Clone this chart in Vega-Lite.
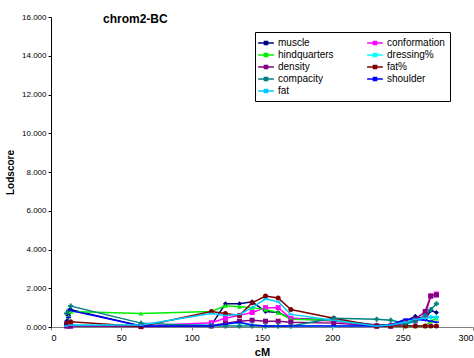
{
  "$schema": "https://vega.github.io/schema/vega-lite/v6.json",
  "autosize": "none",
  "width": 422,
  "height": 310,
  "padding": {"left": 51, "top": 17, "right": 1, "bottom": 31},
  "background": "white",
  "config": {
    "view": {"stroke": null},
    "font": "Liberation Sans",
    "axis": {"grid": false, "labelFont": "Liberation Sans", "titleFont": "Liberation Sans", "labelColor": "black", "titleColor": "black"}
  },
  "title": {"text": "chrom2-BC", "anchor": "start", "frame": "group", "dx": 52, "offset": -13, "fontSize": 12, "fontWeight": "bold", "font": "Liberation Sans", "color": "black"},
  "data": {"values": [
    {"cM": 11, "muscle": 0.3, "conformation": 0.15, "hindquarters": 0.2, "dressing%": 0.1, "density": 0.05, "fat%": 0.15, "compacity": 0.7, "shoulder": 0.1, "fat": 0.05},
    {"cM": 12.5, "muscle": 0.6, "conformation": 0.05, "hindquarters": 0.55, "dressing%": 0.05, "density": 0.05, "fat%": 0.2, "compacity": 0.85, "shoulder": 0.5, "fat": 0.05},
    {"cM": 14, "muscle": 0.9, "conformation": 0.05, "hindquarters": 0.8, "dressing%": 0.05, "density": 0.05, "fat%": 0.27, "compacity": 1.08, "shoulder": 0.85, "fat": 0.1},
    {"cM": 64, "muscle": 0.05, "conformation": 0.05, "hindquarters": 0.7, "dressing%": 0.05, "density": 0.02, "fat%": 0.03, "compacity": 0.2, "shoulder": 0.05, "fat": 0.1},
    {"cM": 114, "muscle": 0.1, "conformation": 0.22, "hindquarters": 0.8, "dressing%": 0.1, "density": 0.05, "fat%": 0.8, "compacity": 0.05, "shoulder": 0.05, "fat": 0.7},
    {"cM": 124, "muscle": 1.2, "conformation": 0.45, "hindquarters": 1.1, "dressing%": 0.15, "density": 0.2, "fat%": 0.7, "compacity": 0.05, "shoulder": 0.15, "fat": 0.6},
    {"cM": 134, "muscle": 1.2, "conformation": 0.6, "hindquarters": 1.05, "dressing%": 0.2, "density": 0.3, "fat%": 0.6, "compacity": 0.05, "shoulder": 0.25, "fat": 0.65},
    {"cM": 143, "muscle": 1.3, "conformation": 0.75, "hindquarters": 1.0, "dressing%": 0.1, "density": 0.35, "fat%": 1.25, "compacity": 0.05, "shoulder": 0.1, "fat": 1.0},
    {"cM": 152.5, "muscle": 0.8, "conformation": 1.0, "hindquarters": 0.9, "dressing%": 0.05, "density": 0.3, "fat%": 1.6, "compacity": 0.05, "shoulder": 0.05, "fat": 1.45},
    {"cM": 161.5, "muscle": 0.75, "conformation": 1.0, "hindquarters": 0.75, "dressing%": 0.05, "density": 0.3, "fat%": 1.5, "compacity": 0.05, "shoulder": 0.05, "fat": 1.3},
    {"cM": 170.5, "muscle": 0.45, "conformation": 0.45, "hindquarters": 0.4, "dressing%": 0.05, "density": 0.25, "fat%": 0.9, "compacity": 0.05, "shoulder": 0.05, "fat": 0.65},
    {"cM": 201, "muscle": 0.35, "conformation": 0.3, "hindquarters": 0.35, "dressing%": 0.05, "density": 0.2, "fat%": 0.45, "compacity": 0.45, "shoulder": 0.05, "fat": 0.35},
    {"cM": 231.5, "muscle": 0.1, "conformation": 0.05, "hindquarters": 0.05, "dressing%": 0.05, "density": 0.05, "fat%": 0.05, "compacity": 0.4, "shoulder": 0.05, "fat": 0.05},
    {"cM": 241.5, "muscle": 0.1, "conformation": 0.05, "hindquarters": 0.05, "dressing%": 0.05, "density": 0.05, "fat%": 0.05, "compacity": 0.35, "shoulder": 0.1, "fat": 0.1},
    {"cM": 252, "muscle": 0.3, "conformation": 0.2, "hindquarters": 0.05, "dressing%": 0.1, "density": 0.2, "fat%": 0.05, "compacity": 0.2, "shoulder": 0.4, "fat": 0.25},
    {"cM": 259, "muscle": 0.55, "conformation": 0.3, "hindquarters": 0.05, "dressing%": 0.3, "density": 0.4, "fat%": 0.05, "compacity": 0.3, "shoulder": 0.4, "fat": 0.4},
    {"cM": 266, "muscle": 0.4, "conformation": 0.6, "hindquarters": 0.05, "dressing%": 0.45, "density": 0.8, "fat%": 0.05, "compacity": 0.6, "shoulder": 0.35, "fat": 0.45},
    {"cM": 270, "muscle": 0.85, "conformation": 1.6, "hindquarters": 0.3, "dressing%": 0.5, "density": 1.6, "fat%": 0.05, "compacity": 0.9, "shoulder": 0.3, "fat": 0.5},
    {"cM": 274, "muscle": 0.75, "conformation": 1.7, "hindquarters": 0.45, "dressing%": 0.5, "density": 1.65, "fat%": 0.05, "compacity": 1.2, "shoulder": 0.25, "fat": 0.5}
  ]},
  "transform": [
    {"fold": ["muscle", "conformation", "hindquarters", "dressing%", "density", "fat%", "compacity", "shoulder", "fat"], "as": ["trait", "lod"]}
  ],
  "encoding": {
    "x": {"field": "cM", "type": "quantitative", "scale": {"domain": [0, 300], "nice": false},
      "axis": {"values": [0, 50, 100, 150, 200, 250, 300], "title": "cM", "titleFontWeight": "bold", "titleFontSize": 11, "titlePadding": 4, "labelFontSize": 9, "domainColor": "#808080", "tickColor": "#808080", "tickSize": 3, "labelPadding": 3}},
    "y": {"field": "lod", "type": "quantitative", "scale": {"domain": [0, 16], "nice": false},
      "axis": {"values": [0, 2, 4, 6, 8, 10, 12, 14, 16], "format": ".3f", "title": "Lodscore", "titleFontWeight": "bold", "titleFontSize": 10, "titlePadding": 6, "labelFontSize": 8, "domainColor": "black", "tickColor": "black", "tickSize": 3, "labelPadding": 2}},
    "color": {"field": "trait", "type": "nominal",
      "scale": {"domain": ["muscle", "conformation", "hindquarters", "dressing%", "density", "fat%", "compacity", "shoulder", "fat"],
                "range": ["#000080", "#FF00FF", "#00EE00", "#00FFFF", "#800080", "#800000", "#008080", "#0000FF", "#00CCFF"]},
      "legend": {"title": null, "orient": "none", "legendX": 204, "legendY": 15, "columns": 2, "direction": "horizontal", "columnPadding": 30, "rowPadding": 1, "labelFontSize": 10, "labelFont": "Liberation Sans", "labelColor": "black", "strokeColor": "black", "padding": 5, "fillColor": "white", "labelOffset": 6, "labelLimit": 100, "symbolType": "M-1.5,0H1.5M-0.3,-0.3H0.3V0.3H-0.3Z", "symbolSize": 110, "symbolStrokeWidth": 1.5}
    }
  },
  "layer": [
    {"mark": {"type": "line", "strokeWidth": 1.5}, "encoding": {"detail": {"field": "trait"}}},
    {"mark": {"type": "point", "filled": true, "size": 25, "opacity": 1},
      "encoding": {"shape": {"field": "trait", "type": "nominal", "legend": null,
        "scale": {"domain": ["fat", "shoulder", "compacity", "fat%", "density", "dressing%", "hindquarters", "conformation", "muscle"],
                  "range": ["M-1,-0.3H1V0.3H-1Z", "M-1,-0.3H1V0.3H-1Z", "cross", "circle", "square", "cross", "triangle-up", "square", "diamond"]}}}}
  ]
}
